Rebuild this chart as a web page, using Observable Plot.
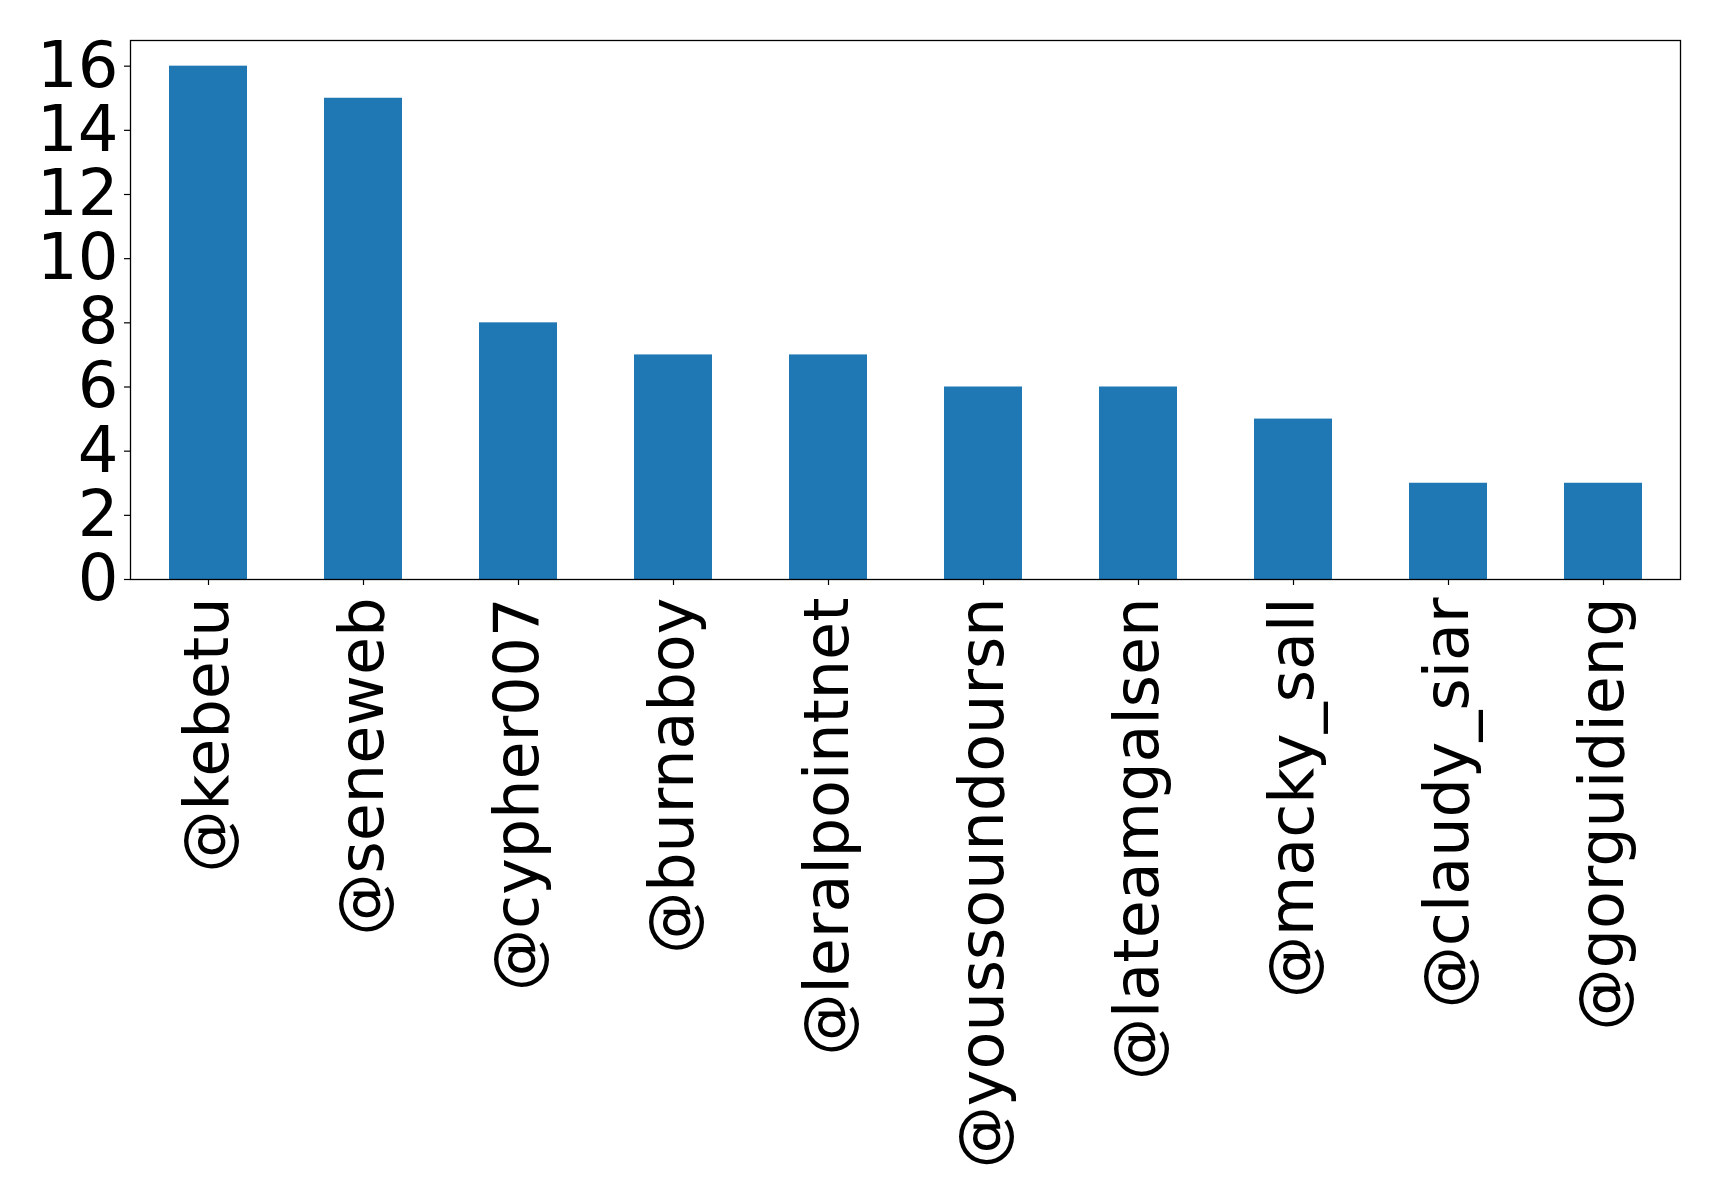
<!DOCTYPE html>
<html>
<head>
<meta charset="utf-8">
<script src="https://cdn.jsdelivr.net/npm/d3@7"></script>
<script src="https://cdn.jsdelivr.net/npm/@observablehq/plot@0.6"></script>
<style>
  html, body { margin: 0; padding: 0; background: #fff; }
  #chart svg { display: block; }
</style>
</head>
<body>
<div id="chart"></div>
<script>
const accounts = ["@kebetu", "@seneweb", "@cypher007", "@burnaboy", "@leralpointnet", "@youssoundoursn", "@lateamgalsen", "@macky_sall", "@claudy_siar", "@gorguidieng"];
const counts = [16, 15, 8, 7, 7, 6, 6, 5, 3, 3];
const yTicks = [0, 2, 4, 6, 8, 10, 12, 14, 16];

const data = accounts.map((a, i) => ({account: a, count: counts[i]}));

const chart = Plot.plot({
  width: 1719,
  height: 1203,
  marginLeft: 130,
  marginRight: 39,
  marginTop: 40,
  marginBottom: 624,
  style: {fontFamily: "DejaVu Sans", color: "#000", background: "#fff"},
  x: {domain: accounts, paddingInner: 0.5, paddingOuter: 0.25},
  y: {domain: [0, 16.8]},
  marks: [
    Plot.barY(data, {x: "account", y: "count", fill: "#1f77b4"}),
    Plot.frame({stroke: "#000", strokeWidth: 1.3}),
    Plot.axisY({ticks: yTicks, tickSize: 6, tickPadding: 6, fontSize: 64, label: null, stroke: "#000", strokeWidth: 1.2}),
    Plot.axisX({tickRotate: -90, tickSize: 6, tickPadding: 12, fontSize: 62, label: null, stroke: "#000", strokeWidth: 1.2})
  ]
});
document.getElementById("chart").appendChild(chart);
</script>
</body>
</html>
